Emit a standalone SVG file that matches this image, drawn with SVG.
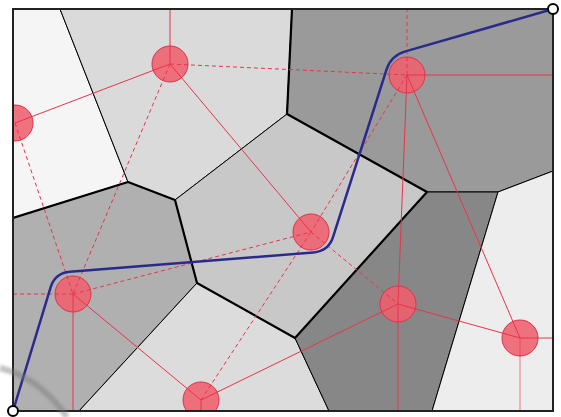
<svg xmlns="http://www.w3.org/2000/svg" width="561" height="417" viewBox="0 0 561 417">
<style>
.cell{stroke:#000;stroke-width:1;stroke-linejoin:round}
.thick{fill:none;stroke:#000;stroke-width:2.2;stroke-linejoin:round}
.del{stroke:#e8344a;stroke-width:1;fill:none}
.dash{stroke-dasharray:4,3}
.site{fill:#f0606e;fill-opacity:0.88;stroke:#e03048;stroke-width:1}
.end{fill:#fff;stroke:#000;stroke-width:2}
</style>
<defs>
<clipPath id="fr"><rect x="13" y="9" width="540" height="402"/></clipPath>
<filter id="bl" x="-20%" y="-20%" width="140%" height="140%"><feGaussianBlur stdDeviation="1.5"/></filter>
</defs>
<rect width="561" height="417" fill="#fff"/>
<g id="cells" clip-path="url(#fr)">
<polygon id="cell-s2" class="cell" fill="#f5f5f5" points="13,9 60,9 128,182 13,218"/>
<polygon id="cell-s1" class="cell" fill="#dadada" points="60,9 292,9 287,114 175,200 128,182"/>
<polygon id="cell-s3" class="cell" fill="#9a9a9a" points="292,9 553,9 553,171 498,192 427,192 287,114"/>
<polygon id="cell-s4" class="cell" fill="#c8c8c8" points="287,114 427,192 295,338 197,283 175,200"/>
<polygon id="cell-s5" class="cell" fill="#b0b0b0" points="13,218 128,182 175,200 197,283 79,411 13,411"/>
<polygon id="cell-s8" class="cell" fill="#dcdcdc" points="197,283 295,338 329,411 79,411"/>
<polygon id="cell-s6" class="cell" fill="#878787" points="427,192 498,192 432,411 329,411 295,338"/>
<polygon id="cell-s7" class="cell" fill="#ededed" points="498,192 553,171 553,411 432,411"/>
<polyline class="thick" points="13,218 128,182 175,200 197,283 295,338 427,192 287,114 292,9"/>
</g>
<g id="sites" clip-path="url(#fr)">
<g id="s1"><circle class="site" cx="170" cy="64" r="18"/></g>
<g id="s2"><circle class="site" cx="15" cy="123" r="18"/></g>
<g id="s3"><circle class="site" cx="407" cy="75" r="18"/></g>
<g id="s4"><circle class="site" cx="311" cy="232" r="18"/></g>
<g id="s5"><circle class="site" cx="73" cy="294" r="18"/></g>
<g id="s6"><circle class="site" cx="398" cy="304" r="18"/></g>
<g id="s7"><circle class="site" cx="520" cy="338" r="18"/></g>
<g id="s8"><circle class="site" cx="201" cy="400" r="18"/></g>
</g>
<g id="connectors" clip-path="url(#fr)">
<line class="del" x1="170" y1="64" x2="170" y2="9"/>
<line class="del" x1="170" y1="64" x2="15" y2="123"/>
<line class="del dash" x1="170" y1="64" x2="407" y2="75"/>
<line class="del" x1="170" y1="64" x2="311" y2="232"/>
<line class="del dash" x1="170" y1="64" x2="73" y2="294"/>
<line class="del dash" x1="15" y1="123" x2="73" y2="294"/>
<line class="del dash" x1="407" y1="75" x2="407" y2="9"/>
<line class="del" x1="407" y1="75" x2="553" y2="75"/>
<line class="del dash" x1="407" y1="75" x2="311" y2="232"/>
<line class="del" x1="407" y1="75" x2="398" y2="304"/>
<line class="del" x1="407" y1="75" x2="520" y2="338"/>
<line class="del dash" x1="73" y1="294" x2="13" y2="294"/>
<line class="del" x1="73" y1="294" x2="73" y2="411"/>
<line class="del" x1="73" y1="294" x2="201" y2="400"/>
<line class="del dash" x1="73" y1="294" x2="311" y2="232"/>
<line class="del dash" x1="201" y1="400" x2="311" y2="232"/>
<line class="del dash" x1="311" y1="232" x2="398" y2="304"/>
<line class="del" x1="201" y1="400" x2="201" y2="411"/>
<line class="del" x1="201" y1="400" x2="398" y2="304"/>
<line class="del" x1="398" y1="304" x2="520" y2="338"/>
<line class="del" x1="398" y1="304" x2="398" y2="411"/>
<line class="del" x1="520" y1="338" x2="553" y2="338"/>
<line class="del" x1="520" y1="338" x2="520" y2="411" stroke-opacity="0.6"/>
</g>
<rect x="13" y="9" width="540" height="402" fill="none" stroke="#222" stroke-width="2"/>
<path id="path" d="M13,411 L50.6,287.3 Q55,273 70,271.8 L313.5,252.4 Q328.5,251.2 333.1,236.9 L386.4,69.8 Q391,55.5 405.4,51.4 L553,9" fill="none" stroke="#2a2a8c" stroke-width="2.5" stroke-linejoin="round"/>
<g id="start"><circle class="end" cx="13" cy="411" r="5"/></g>
<g id="goal"><circle class="end" cx="553" cy="9" r="5"/></g>
<path d="M0,368 Q40,378 67,417" fill="none" stroke="#777" stroke-width="6" stroke-opacity="0.45" filter="url(#bl)"/>
</svg>
